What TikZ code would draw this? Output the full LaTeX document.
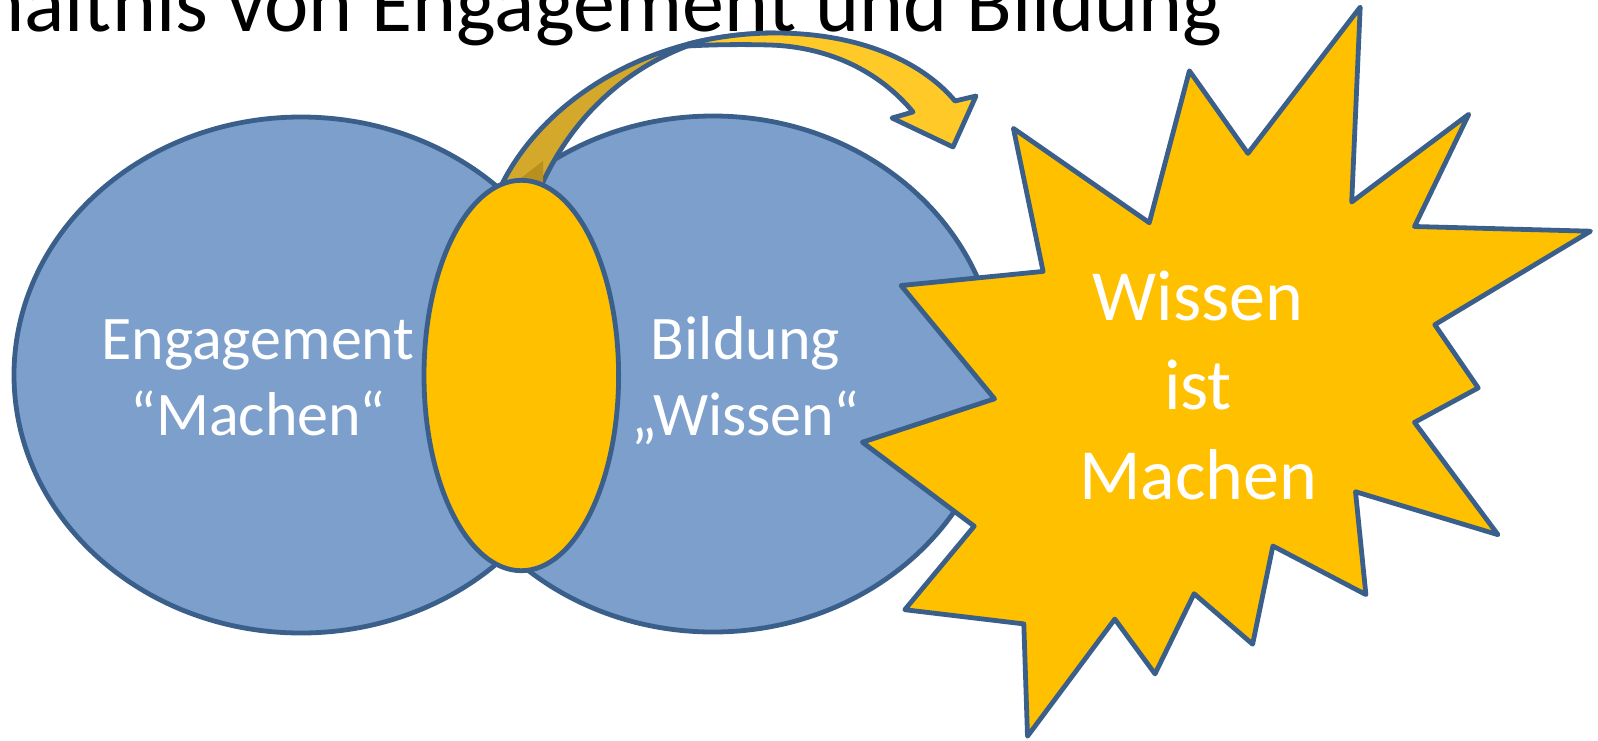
\documentclass[tikz,border=0pt]{standalone}
\usepackage{fontspec}
\setmainfont{Carlito}
\definecolor{bluefill}{RGB}{124,159,203}
\definecolor{blueline}{RGB}{58,95,139}
\definecolor{staryellow}{RGB}{255,192,0}
\definecolor{arrowlight}{RGB}{255,202,40}
\definecolor{arrowdark}{RGB}{212,168,42}
\definecolor{arrowfold}{RGB}{184,144,30}
\begin{document}
\begin{tikzpicture}[x=1pt,y=-1pt,
  outl/.style={draw=blueline, line width=4.8pt, line join=round},
  blueell/.style={outl, fill=bluefill},
  yell/.style={outl, fill=staryellow},
  backband/.style={outl, fill=arrowdark},
  frontband/.style={outl, fill=arrowlight},
  lbl/.style={text=white, inner sep=0pt, anchor=base, font=\fontsize{62}{76}\selectfont},
  starlbl/.style={text=white, inner sep=0pt, anchor=base, font=\fontsize{72}{89}\selectfont},
  titlelbl/.style={text=black, inner sep=0pt, anchor=base east, font=\fontsize{84}{100}\selectfont}
]
\useasboundingbox (0,0) rectangle (1598,740);
\clip (0,0) rectangle (1598,740);

% title (clipped at the top and left, as in the reference)
\node[titlelbl] (title) at (1223,31) {Verhältnis von Engagement und Bildung};

% the two big ellipses
\draw[blueell] (301,375) ellipse [x radius=287pt, y radius=258pt];
\draw[blueell] (713,374) ellipse [x radius=285pt, y radius=258pt];

% curved arrow: back (dark) band
\draw[backband] (496,200) -- (503,182) .. controls (548,95) and (655,33) .. (775,33)
  .. controls (740,38) and (710,41) .. (690,45)
  .. controls (622,70) and (572,120) .. (543,182) -- (538,200) -- cycle;
\fill[arrowfold] (521,178) -- (543,161) -- (543,183) -- cycle;

% curved arrow: front (light) band with head
\draw[frontband] (688,44) .. controls (715,37) and (745,33) .. (775,33)
  .. controls (865,33) and (925,65) .. (955,101)
  -- (976,96) -- (953,147) -- (892,118) -- (913,112)
  .. controls (880,72) and (830,47) .. (770,45)
  .. controls (735,44) and (705,45) .. (688,46) -- cycle;

% middle ellipse
\draw[yell] (521.3,375.5) ellipse [x radius=97.3pt, y radius=195.2pt];

% star
\draw[yell] (1013.4,128.4) -- (1149.3,222.7) -- (1189.4,70.8) -- (1247.9,153.4) -- (1360.2,7.1) -- (1351.7,202) -- (1468.8,114.2) -- (1414.5,226.5) -- (1590.5,231.2) -- (1434.8,324.7) -- (1478.2,387.9) -- (1414.5,422.4) -- (1498,534.7) -- (1355.5,491.7) -- (1365.9,594.6) -- (1272.9,546) -- (1252.6,644.2) -- (1194.1,593.7) -- (1155,673.9) -- (1114.8,619.1) -- (1027.5,736.2) -- (1023.8,623.9) -- (904.8,609.7) -- (974.2,526.2) -- (862.4,442.2) -- (994.5,398.8) -- (901.1,285.5) -- (1043.1,271.4) -- cycle;

% labels
\node[lbl] (eng1) at (258,359) {Engagement};
\node[lbl] (eng2) at (258,435) {“Machen“};
\node[lbl] (bil1) at (745.5,359) {Bildung};
\node[lbl] (bil2) at (745.5,435) {„Wissen“};
\node[starlbl] (st1) at (1198,320) {Wissen};
\node[starlbl] (st2) at (1198,409.5) {ist};
\node[starlbl] (st3) at (1198,499) {Machen};
\end{tikzpicture}
\end{document}
